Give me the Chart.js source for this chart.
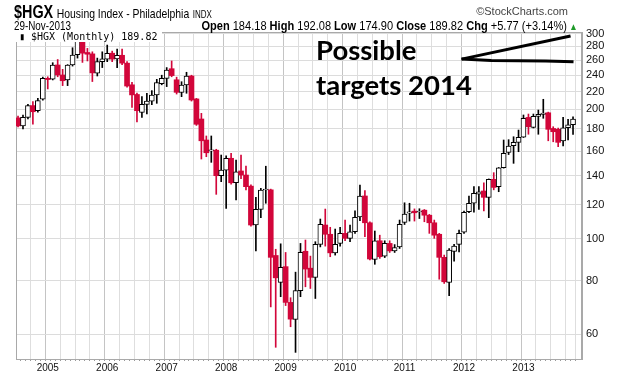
<!DOCTYPE html>
<html><head><meta charset="utf-8">
<script src="https://cdn.jsdelivr.net/npm/chart.js@4.4.0/dist/chart.umd.min.js"></script>
<style>
html,body{margin:0;padding:0;background:#fff;}
#wrap{position:relative;width:620px;height:376px;overflow:hidden;font-family:'Liberation Sans',Arial,sans-serif;color:#000;}
canvas{position:absolute;left:0;top:0;}
.abs{position:absolute;white-space:nowrap;line-height:1;}
</style></head><body>
<div id="wrap">
<canvas id="c" width="620" height="376"></canvas>
<div class="abs" style="left:14px;top:3px;transform:scaleX(0.8);transform-origin:0 0;"><b style="font-size:18px">$HGX</b> <span style="font-size:13px">Housing Index - Philadelphia</span> <span style="font-size:10px">INDX</span></div>
<div class="abs" style="right:52px;top:6px;font-size:11px;color:#444;">&#169;StockCharts.com</div>
<div class="abs" style="left:14px;top:20px;font-size:12px;transform:scaleX(0.82);transform-origin:0 0;">29-Nov-2013</div>
<div class="abs" style="right:42px;top:19px;font-size:13px;transform:scaleX(0.85);transform-origin:100% 0;"><b>Open</b> 184.18 <b>High</b> 192.08 <b>Low</b> 174.90 <b>Close</b> 189.82 <b>Chg</b> +5.77 (+3.14%)<span style="color:#1f9a2a;font-size:10px;"> &#9650;</span></div>
<div class="abs" style="left:16px;top:31px;width:146px;height:11px;background:#fff;font-family:'DejaVu Sans Mono',monospace;font-size:10px;"><span style="position:absolute;left:3px;top:1px;">&#9646;</span><span style="position:absolute;left:15px;top:1px;">$HGX (Monthly) 189.82</span></div>
<div class="abs" style="left:316px;top:32px;font-family:Lato,sans-serif;font-weight:bold;font-size:27.5px;line-height:35.3px;">Possible<br>targets 2014</div>
</div>
<script>
const months = ['2004-07','2004-08','2004-09','2004-10','2004-11','2004-12',
'2005-01','2005-02','2005-03','2005-04','2005-05','2005-06','2005-07','2005-08','2005-09','2005-10','2005-11','2005-12',
'2006-01','2006-02','2006-03','2006-04','2006-05','2006-06','2006-07','2006-08','2006-09','2006-10','2006-11','2006-12',
'2007-01','2007-02','2007-03','2007-04','2007-05','2007-06','2007-07','2007-08','2007-09','2007-10','2007-11','2007-12',
'2008-01','2008-02','2008-03','2008-04','2008-05','2008-06','2008-07','2008-08','2008-09','2008-10','2008-11','2008-12',
'2009-01','2009-02','2009-03','2009-04','2009-05','2009-06','2009-07','2009-08','2009-09','2009-10','2009-11','2009-12',
'2010-01','2010-02','2010-03','2010-04','2010-05','2010-06','2010-07','2010-08','2010-09','2010-10','2010-11','2010-12',
'2011-01','2011-02','2011-03','2011-04','2011-05','2011-06','2011-07','2011-08','2011-09','2011-10','2011-11','2011-12',
'2012-01','2012-02','2012-03','2012-04','2012-05','2012-06','2012-07','2012-08','2012-09','2012-10','2012-11','2012-12',
'2013-01','2013-02','2013-03','2013-04','2013-05','2013-06','2013-07','2013-08','2013-09','2013-10','2013-11'];

const openVals = [191,183,191.5,204,198.5,211,
236,235,253.5,240.3,234,253.5,268,287.7,271,269,242.5,258,
261.6,270,262,267,256,228,216.5,196.8,205.4,209,215.9,229.5,
236,248.5,234.2,219,227.7,239,211.4,189.9,169.7,160,160.7,140.2,
144.5,153.9,135,143.8,140.7,132.6,107.7,117.1,130,130,91.5,79.2,
86.2,71.2,65,75.8,93.6,85.5,81.4,97.1,107.7,102.5,92.8,97.6,
103,100.3,103.9,112.5,125.8,109,89.6,99,91.2,97.6,93.8,95.8,
109.2,114.7,116,115.5,116.6,113.5,109,102.5,90.6,79.2,93.5,97.1,
103.6,115.6,121,127,129.2,124.9,137.5,132.2,146.3,158.9,164.6,167.6,
172.2,191.5,181.6,192.6,194.5,196.3,180.5,179.7,168.8,181.2,184.18];

const highVals = [193,194,205.5,208.5,212,237.6,
238,256.6,261,247.7,254,278,292,292,277,272,263,272,
282,273,276,276,258,231,218,214,217.9,221,234.8,240,
250,259,237.5,231.8,243.8,240,212,195.7,173.4,173.4,161.5,156.6,
156,158,152.5,156.6,147.6,133.5,124.9,131,147.5,130.5,94.6,97.4,
93,73,83.7,97.6,99.4,91.2,98.5,111.2,117.3,106.4,105.4,106.4,
110.6,107.7,116.2,133.4,129.4,109.5,104.3,102,99,99,97,110.6,
121.3,121,117.4,117.5,117,114,110.6,103,91.7,95,97.1,104.8,
116,125.8,132.2,132.2,135,137.8,142.5,146.5,169.7,170,172.7,179,
194,195,195,199.2,211,197,182.2,181,191.5,189.6,192.08];

const lowVals = [182,180,190,184.7,197,210,
223,234,238,227,227,252,263,257,259,232,239,250,
258,258,250,254,225,202,187,191.5,195,205,206.5,228,
225.8,238,217,214,217.9,209,183.5,153.3,155.2,150.6,126.9,135.8,
117.7,134,123.1,138,129.9,107,93.8,112,121,69.5,56,73.4,
70,62.5,54.5,73.4,77.4,76.7,72.7,95.8,96.2,90.9,91.7,96.2,
99,98.5,103,110.2,101.2,89.3,87.3,90.1,90.5,93,93,95,
108,110,110,111.5,109.6,103,100.3,80.6,78.8,73.8,88.8,93.3,
103,115,115.3,117.1,116.2,112,130,128.7,146,157,149.8,159.4,
172,175,181,175,190.6,169,168.1,163.7,164.5,169.7,174.90];

const closeVals = [183,191.5,204,197.4,209.5,236,
234.5,253.5,240.3,233,253.5,267.4,287.7,270,268.5,243,258,262,
269.8,261.6,267,256,226.5,216,198.5,205.4,209,215.9,230.6,236,
246.8,239.5,219,227.7,239,210.2,184.6,169,158.5,161,140.2,144.5,
153.9,135,143.2,140.7,132.2,107.7,117.1,129.9,130.5,90.6,81.2,85.9,
71.2,65.1,75.8,93,85.1,81.4,97.1,108.1,102.5,92.8,97.1,103,
100.3,103.9,112.2,125.8,109,89.8,99,90.9,97.6,93.8,95.4,108.1,
114.2,115.5,115,116,113.5,109,102,90.6,79.5,94.2,96.2,103,
115.3,121,127.6,128.7,124.9,137.5,131.7,146.3,158,164.3,167.6,172.2,
190.6,182.2,192.6,194.7,196,179.7,177.4,167.6,181.2,184.1,189.82];

const yTickVals = [60,80,100,120,140,160,180,200,220,240,260,280,300];

// hand-drawn "possible targets" lines (month index, index value)
const targetUpperIdx = [89.5, 111.5];
const targetUpperVal = [261.6, 296];
const targetLowerIdx = [89.5, 95.5, 106.5, 112.1];
const targetLowerVal = [261.6, 259.5, 259, 257.8];

const RED = '#d2063a';
const isUp = closeVals.map((c,i) => c >= openVals[i]);

const frame = {
  id: 'frame',
  beforeDatasetsDraw(chart) {
    const a = chart.chartArea, ctx = chart.ctx;
    ctx.save();
    ctx.strokeStyle = '#a9a9a9';
    ctx.lineWidth = 1;
    ctx.strokeRect(a.left + 0.5, a.top + 0.5, a.right - a.left - 1, a.bottom - a.top);
    ctx.restore();
  }
};

Chart.defaults.font.family = "'Liberation Sans', Arial, sans-serif";

new Chart(document.getElementById('c'), {
  type: 'bar',
  data: {
    datasets: [
      {
        type: 'line',
        data: targetUpperIdx.map((x,i) => ({x, y: targetUpperVal[i]})),
        borderColor: '#000', borderWidth: 3, pointRadius: 0, order: 0, tension: 0
      },
      {
        type: 'line',
        data: targetLowerIdx.map((x,i) => ({x, y: targetLowerVal[i]})),
        borderColor: '#000', borderWidth: 3, pointRadius: 0, order: 0, tension: 0
      },
      {
        label: 'body',
        data: months.map((m,i) => ({x: i, y: [openVals[i], closeVals[i]]})),
        backgroundColor: isUp.map(u => u ? '#ffffff' : RED),
        borderColor: isUp.map(u => u ? '#000000' : RED),
        borderWidth: isUp.map(u => u ? 1 : 0),
        borderSkipped: false,
        barThickness: 5,
        grouped: false,
        order: 1
      },
      {
        label: 'wick',
        data: months.map((m,i) => ({x: i, y: [lowVals[i], highVals[i]]})),
        backgroundColor: isUp.map(u => u ? '#000000' : RED),
        borderWidth: 0,
        barThickness: 1,
        grouped: false,
        order: 2
      }
    ]
  },
  options: {
    responsive: false,
    animation: false,
    layout: {padding: {left: 16, top: 32, right: 0, bottom: 0}},
    plugins: {legend: {display: false}, tooltip: {enabled: false}},
    scales: {
      x: {
        type: 'linear',
        min: 0.1,
        max: 113.3,
        afterBuildTicks: s => { s.ticks = months.map((m,i) => ({value: i})).filter(t => t.value > 0); },
        afterFit: s => { s.height = 17; },
        ticks: {
          autoSkip: false, maxRotation: 0, padding: 1,
          font: {size: 10}, color: '#111',
          callback: v => { const m = months[v]; return (m && m.endsWith('-01')) ? m.slice(0,4) : ''; }
        },
        grid: {
          color: c => { const i = c.tick ? c.tick.value : 0; const mm = months[i] ? +months[i].slice(5) : 0;
            return mm === 1 ? '#c4c4c4' : ((mm - 1) % 3 === 0 ? '#dedede' : 'rgba(0,0,0,0)'); },
          tickColor: '#9a9a9a', tickLength: 2
        },
        border: {color: '#a9a9a9'}
      },
      y: {
        type: 'logarithmic',
        position: 'right',
        min: 52.6,
        max: 302.4,
        afterBuildTicks: s => { s.ticks = yTickVals.map(v => ({value: v})); },
        afterFit: s => { s.width = 38; },
        ticks: {padding: 4, font: {size: 11}, color: '#111', callback: v => String(v)},
        grid: {color: '#dcdcdc', drawTicks: false},
        border: {color: '#a9a9a9'}
      }
    }
  },
  plugins: [frame]
});
</script>
</body></html>
